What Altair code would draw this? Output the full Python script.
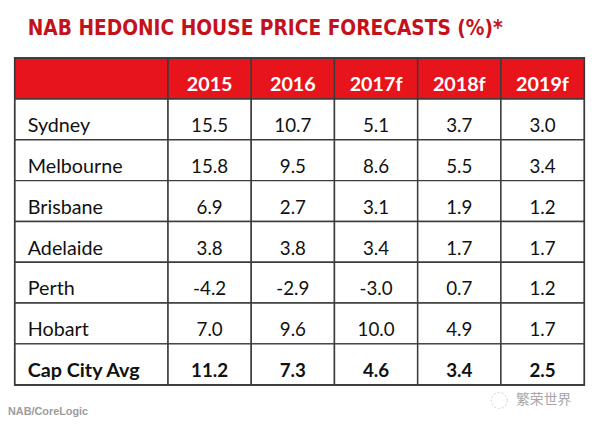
import altair as alt
import pandas as pd

# ---------------- data ----------------
title_text = "NAB HEDONIC HOUSE PRICE FORECASTS (%)*"
source_text = "NAB/CoreLogic"
watermark_text = "繁荣世界"

cities = ["Sydney", "Melbourne", "Brisbane", "Adelaide", "Perth", "Hobart", "Cap City Avg"]
years = ["2015", "2016", "2017f", "2018f", "2019f"]

v2015 = [15.5, 15.8, 6.9, 3.8, -4.2, 7.0, 11.2]
v2016 = [10.7, 9.5, 2.7, 3.8, -2.9, 9.6, 7.3]
v2017 = [5.1, 8.6, 3.1, 3.4, -3.0, 10.0, 4.6]
v2018 = [3.7, 5.5, 1.9, 1.7, 0.7, 4.9, 3.4]
v2019 = [3.0, 3.4, 1.2, 1.7, 1.2, 1.7, 2.5]

series = dict(zip(years, [v2015, v2016, v2017, v2018, v2019]))

# ---------------- layout helpers ----------------
HEADER = "header"
row_order = [HEADER] + cities
avg_row = cities[-1]
label_w = 1.84  # width of label column in units of a year column
col_left = {"label": 0.0}
for i, yr in enumerate(years):
    col_left[yr] = label_w + i
x_max = label_w + len(years)

W, H = 577, 331

cells = []
for r in row_order:
    for c in ["label"] + years:
        x0 = col_left[c]
        x1 = x0 + (label_w if c == "label" else 1.0)
        cells.append({"row": r, "col": c, "x0": x0, "x1": x1,
                      "kind": "header" if r == HEADER else "body"})
cells_df = pd.DataFrame(cells)

head_df = pd.DataFrame([{"row": HEADER, "xc": col_left[y] + 0.5, "txt": y} for y in years])
label_df = pd.DataFrame([{"row": c, "xl": 0.0, "txt": c} for c in cities])
val_rows = []
for yr in years:
    for c, v in zip(cities, series[yr]):
        val_rows.append({"row": c, "xc": col_left[yr] + 0.5, "v": v})
val_df = pd.DataFrame(val_rows)

xscale = alt.Scale(domain=[0, x_max], nice=False, zero=False)
yscale = alt.Scale(type="band", domain=row_order, paddingInner=0, paddingOuter=0)

FONT = "Lato"
TXT = "#111111"
DY = 7

rects = alt.Chart(cells_df).mark_rect(stroke="#3c3c3c", strokeWidth=1.5).encode(
    x=alt.X("x0:Q", scale=xscale, axis=None),
    x2="x1:Q",
    y=alt.Y("row:N", scale=yscale, axis=None),
    fill=alt.Fill("kind:N", scale=alt.Scale(domain=["header", "body"], range=["#e8141c", "#ffffff"]), legend=None),
)

head_txt = alt.Chart(head_df).mark_text(
    font=FONT, fontSize=20, fontWeight="bold", color="#ffffff", dy=DY, align="center", baseline="middle"
).encode(x=alt.X("xc:Q", scale=xscale, axis=None), y=alt.Y("row:N", scale=yscale, axis=None), text="txt:N")

label_base = alt.Chart(label_df).encode(
    x=alt.X("xl:Q", scale=xscale, axis=None), y=alt.Y("row:N", scale=yscale, axis=None), text="txt:N")
labels = label_base.mark_text(font=FONT, fontSize=20, color=TXT, dx=13, dy=DY, align="left", baseline="middle"
                              ).transform_filter(alt.datum.row != avg_row)
labels_b = label_base.mark_text(font=FONT, fontSize=20, fontWeight="bold", color=TXT, dx=13, dy=DY, align="left",
                                baseline="middle").transform_filter(alt.datum.row == avg_row)

val_base = alt.Chart(val_df).transform_calculate(
    lab="replace(format(datum.v, '.1f'), '\u2212', '-')"
).encode(x=alt.X("xc:Q", scale=xscale, axis=None), y=alt.Y("row:N", scale=yscale, axis=None), text="lab:N")
vals = val_base.mark_text(font=FONT, fontSize=19, color=TXT, dy=DY, align="center", baseline="middle"
                          ).transform_filter(alt.datum.row != avg_row)
vals_b = val_base.mark_text(font=FONT, fontSize=19, fontWeight="bold", color=TXT, dy=DY, align="center",
                            baseline="middle").transform_filter(alt.datum.row == avg_row)

title = alt.Chart(pd.DataFrame({"t": [title_text]})).mark_text(
    font="DejaVu Sans Condensed, sans-serif", fontSize=21, fontWeight="bold",
    color="#c4121c", align="left", baseline="middle"
).encode(text="t:N", x=alt.value(13), y=alt.value(-29))

source = alt.Chart(pd.DataFrame({"t": [source_text]})).mark_text(
    font="Liberation Sans, Arial, sans-serif", fontSize=11, fontWeight="bold", color="#9c9c9c",
    align="left", baseline="middle"
).encode(text="t:N", x=alt.value(-7), y=alt.value(359))

wm = alt.Chart(pd.DataFrame({"t": [watermark_text]})).mark_text(
    font="Noto Sans CJK SC", fontSize=14, color="#a8a8a8", align="left", baseline="middle"
).encode(text="t:N", x=alt.value(508), y=alt.value(347))

icon = alt.Chart(pd.DataFrame({"t": [watermark_text]})).mark_point(
    shape="circle", filled=False, stroke="#b8b8b8", strokeWidth=1, strokeDash=[2, 2], size=260
).encode(x=alt.value(491), y=alt.value(347))

chart = alt.layer(rects, head_txt, labels, labels_b, vals, vals_b, title, source, wm, icon).properties(
    width=W, height=H,
    autosize=alt.AutoSizeParams(type="none"),
    padding={"left": 7, "top": 48, "right": 8, "bottom": 38},
    background="#ffffff",
).configure_view(stroke="#111111", strokeWidth=2)

chart.save("out.html", embed_options={"renderer": "svg", "actions": False})
